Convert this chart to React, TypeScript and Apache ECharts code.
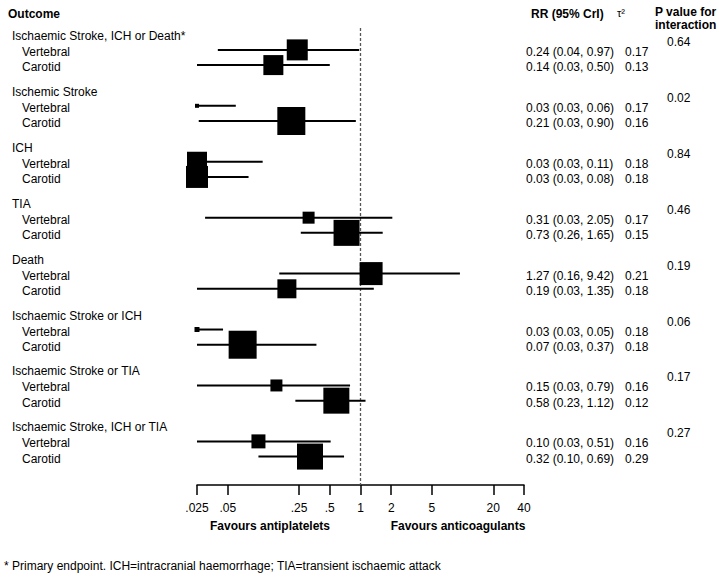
import React, { useEffect, useRef } from "react";
import * as echarts from "echarts";

// ---------- data ----------
const outcomes = [
  "Ischaemic Stroke, ICH or Death*",
  "Ischemic Stroke",
  "ICH",
  "TIA",
  "Death",
  "Ischaemic Stroke or ICH",
  "Ischaemic Stroke or TIA",
  "Ischaemic Stroke, ICH or TIA",
];
const subgroups = ["Vertebral", "Carotid"];
const pInteraction = ["0.64", "0.02", "0.84", "0.46", "0.19", "0.06", "0.17", "0.27"];

// plotted values (as drawn in the figure)
const rrVertebral = [0.24, 0.025, 0.025, 0.31, 1.27, 0.025, 0.15, 0.1];
const loVertebral = [0.04, 0.025, 0.025, 0.03, 0.16, 0.025, 0.025, 0.025];
const hiVertebral = [0.97, 0.06, 0.11, 2.05, 9.42, 0.045, 0.79, 0.51];
const weightVertebral = [21, 4, 20, 12, 23, 5, 12, 14];

const rrCarotid = [0.14, 0.21, 0.025, 0.73, 0.19, 0.07, 0.58, 0.32];
const loCarotid = [0.025, 0.026, 0.025, 0.26, 0.025, 0.025, 0.23, 0.1];
const hiCarotid = [0.5, 0.9, 0.08, 1.65, 1.35, 0.37, 1.12, 0.69];
const weightCarotid = [20, 28, 22, 26, 19, 28, 26, 26];

const rrTextVertebral = [
  "0.24 (0.04, 0.97)",
  "0.03 (0.03, 0.06)",
  "0.03 (0.03, 0.11)",
  "0.31 (0.03, 2.05)",
  "1.27 (0.16, 9.42)",
  "0.03 (0.03, 0.05)",
  "0.15 (0.03, 0.79)",
  "0.10 (0.03, 0.51)",
];
const rrTextCarotid = [
  "0.14 (0.03, 0.50)",
  "0.21 (0.03, 0.90)",
  "0.03 (0.03, 0.08)",
  "0.73 (0.26, 1.65)",
  "0.19 (0.03, 1.35)",
  "0.07 (0.03, 0.37)",
  "0.58 (0.23, 1.12)",
  "0.32 (0.10, 0.69)",
];
const tauVertebral = ["0.17", "0.17", "0.18", "0.17", "0.21", "0.18", "0.16", "0.16"];
const tauCarotid = ["0.13", "0.16", "0.18", "0.15", "0.18", "0.18", "0.12", "0.29"];

const tickValues = [0.025, 0.05, 0.25, 0.5, 1, 2, 5, 20, 40];
const tickLabels = [".025", ".05", ".25", ".5", "1", "2", "5", "20", "40"];

// ---------- layout ----------
const W = 719;
const H = 577;
const FONT = "'Liberation Sans', Arial, Helvetica, sans-serif";
const GROUP_GAP = 3.68;
const Y_MIN = -0.44;
const Y_MAX = 29.63;
const X_MIN = Math.log10(tickValues[0]);
const X_MAX = Math.log10(tickValues[tickValues.length - 1]);

type Row = {
  y: number;
  rr: number;
  lo: number;
  hi: number;
  w: number;
  label: string;
  rrText: string;
  tau: string;
};

const rows: Row[] = [];
outcomes.forEach((_, g) => {
  const base = g * GROUP_GAP + 1;
  rows.push({
    y: base,
    rr: rrVertebral[g],
    lo: loVertebral[g],
    hi: hiVertebral[g],
    w: weightVertebral[g],
    label: subgroups[0],
    rrText: rrTextVertebral[g],
    tau: tauVertebral[g],
  });
  rows.push({
    y: base + 1,
    rr: rrCarotid[g],
    lo: loCarotid[g],
    hi: hiCarotid[g],
    w: weightCarotid[g],
    label: subgroups[1],
    rrText: rrTextCarotid[g],
    tau: tauCarotid[g],
  });
});

const textStyle = (text: string, bold = false, align = "left") => ({
  text,
  fill: "#000",
  fontSize: 12,
  fontFamily: FONT,
  fontWeight: bold ? "bold" : "normal",
  align,
  verticalAlign: "middle",
  lineHeight: 12,
});

export default function App() {
  const ref = useRef<HTMLDivElement>(null);

  useEffect(() => {
    if (!ref.current) return;
    const chart = echarts.init(ref.current, null, { renderer: "svg" });

    const option: any = {
      animation: false,
      backgroundColor: "#fff",
      grid: { left: 197, right: W - 524, top: 28, bottom: H - 485, containLabel: false },
      xAxis: {
        type: "value",
        position: "bottom",
        min: X_MIN,
        max: X_MAX,
        splitLine: { show: false },
        axisLine: { show: true, onZero: false, lineStyle: { color: "#000", width: 1.5 } },
        axisTick: {
          show: true,
          length: 10,
          inside: false,
          lineStyle: { color: "#000", width: 1.5 },
          customValues: tickValues.map((v) => Math.log10(v)),
        },
        axisLabel: {
          show: true,
          margin: 17,
          color: "#000",
          fontSize: 12,
          fontFamily: FONT,
          customValues: tickValues.map((v) => Math.log10(v)),
          formatter: (val: number) => {
            const i = tickValues.findIndex((t) => Math.abs(Math.log10(t) - val) < 1e-6);
            return i >= 0 ? tickLabels[i] : "";
          },
        },
      },
      yAxis: {
        type: "value",
        inverse: true,
        min: Y_MIN,
        max: Y_MAX,
        show: false,
      },
      series: [
        {
          type: "line",
          silent: true,
          symbol: "none",
          data: [
            [0, Y_MIN],
            [0, Y_MAX],
          ],
          lineStyle: { color: "#555", width: 1.3, type: [3, 2] },
          z: 1,
        },
        {
          type: "custom",
          silent: true,
          clip: false,
          data: rows.map((r) => [Math.log10(r.rr), Math.log10(r.lo), Math.log10(r.hi), r.y]),
          encode: { x: [0, 1, 2], y: 3 },
          renderItem: (params: any, api: any) => {
            const y = api.value(3);
            const p1 = api.coord([api.value(1), y]);
            const p2 = api.coord([api.value(2), y]);
            return {
              type: "line",
              shape: { x1: p1[0], y1: p1[1], x2: p2[0], y2: p2[1] },
              style: { stroke: "#000", lineWidth: 2 },
            };
          },
          z: 2,
        },
        {
          type: "scatter",
          silent: true,
          clip: false,
          symbol: "rect",
          data: rows.map((r) => [Math.log10(r.rr), r.y, r.w]),
          symbolSize: (v: number[]) => v[2],
          itemStyle: { color: "#000", opacity: 1 },
          z: 3,
        },
        {
          // row texts: subgroup labels, RR (95% CrI), tau^2
          type: "custom",
          silent: true,
          clip: false,
          data: rows.map((r) => [X_MIN, r.y]),
          encode: { x: 0, y: 1 },
          renderItem: (params: any, api: any) => {
            const r = rows[params.dataIndex];
            const py = api.coord([X_MIN, api.value(1)])[1] + 2;
            return {
              type: "group",
              children: [
                { type: "text", x: 22, y: py, style: textStyle(r.label) },
                { type: "text", x: 526, y: py, style: textStyle(r.rrText) },
                { type: "text", x: 625, y: py, style: textStyle(r.tau) },
              ],
            };
          },
        },
        {
          // group headers and interaction p values
          type: "custom",
          silent: true,
          clip: false,
          data: outcomes.map((_, g) => [X_MIN, g * GROUP_GAP + 1]),
          encode: { x: 0, y: 1 },
          renderItem: (params: any, api: any) => {
            const g = params.dataIndex;
            const py = api.coord([X_MIN, api.value(1)])[1];
            return {
              type: "group",
              children: [
                { type: "text", x: 12, y: py - 14, style: textStyle(outcomes[g]) },
                { type: "text", x: 667, y: py - 8, style: textStyle(pInteraction[g]) },
              ],
            };
          },
        },
      ],
      graphic: [
        { type: "text", x: 8, y: 14, style: textStyle("Outcome", true) },
        { type: "text", x: 531, y: 14, style: textStyle("RR (95% CrI)", true) },
        { type: "text", x: 617, y: 13, style: { ...textStyle("τ²"), fontSize: 11 } },
        { type: "text", x: 655, y: 12, style: textStyle("P value for", true) },
        { type: "text", x: 655, y: 25, style: textStyle("interaction", true) },
        { type: "text", x: 270, y: 526, style: textStyle("Favours antiplatelets", true, "center") },
        { type: "text", x: 458, y: 526, style: textStyle("Favours anticoagulants", true, "center") },
        {
          type: "text",
          x: 4,
          y: 566,
          style: textStyle("* Primary endpoint. ICH=intracranial haemorrhage; TIA=transient ischaemic attack"),
        },
      ],
    };

    chart.setOption(option);
    return () => chart.dispose();
  }, []);

  return (
    <div
      ref={ref}
      style={{ position: "fixed", left: 0, top: 0, width: W, height: H, background: "#fff" }}
    />
  );
}
